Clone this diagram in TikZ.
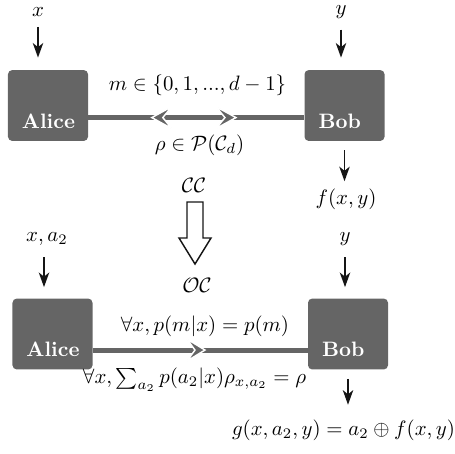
\documentclass[tikz,border=0pt]{standalone}
\usepackage{xcolor}
\usepackage{tikz}
\usepackage{amsmath}
\usepackage{amssymb}
\usetikzlibrary{arrows.meta, positioning, calc}
\definecolor{partygray}{HTML}{656565}
\definecolor{inkblack}{HTML}{151515}

\begin{document}
\begin{tikzpicture}[x=0.48pt, y=-0.48pt, >={Stealth[length=7pt, width=5pt, inset=2pt]},
        party/.style={fill=partygray, rounded corners=2pt, minimum width=38.4pt, minimum height=34pt, inner sep=0pt},
        partyname/.style={anchor=base west, text=white, font=\bfseries, inner sep=0pt},
        feed/.style={->, inkblack, line width=0.8pt},
        channel/.style={partygray, line width=2.4pt},
        chevron/.style={fill=partygray, draw=white, line width=0.7pt, line join=miter}]
        \useasboundingbox (0,0) rectangle (455,453);

        % classical communication
        \node[party] (alice1) at (48,105.5) {};
        \node[party] (bob1) at (344.5,105.5) {};
        \node[partyname] (alice1name) at ([shift={(14,-13)}]alice1.south west) {Alice};
        \node[partyname] (bob1name) at ([shift={(14,-13)}]bob1.south west) {Bob};
        \node (xin1) at (38,12) {$x$};
        \node (yin1) at (341,12.5) {$y$};
        \node (fout) at (346,199) {$f(x,y)$};
        \node (msg1) at (197.5,85) {$m \in \{0,1,...,d-1\}$};
        \node (rho1) at (199.5,145) {$\rho \in \mathcal{P}(\mathcal{C}_d)$};

        \draw[feed, shorten <=1.5pt, shorten >=5.8pt] (xin1.south) -- (xin1.south |- alice1.north);
        \draw[feed, shorten <=1.5pt, shorten >=5.8pt] (yin1.south) -- (yin1.south |- bob1.north);
        \draw[feed, shorten <=4.3pt] (bob1.south) -- (bob1.south |- fout.north);
        \coordinate (a1) at ([yshift=-5.8pt]alice1.east);
        \coordinate (b1) at ([yshift=-5.8pt]bob1.west);
        \draw[channel] (a1) -- (b1);
        \coordinate (tipl1) at ($(a1)!0.294!(b1)$);
        \coordinate (tipr1) at ($(a1)!0.684!(b1)$);
        \draw[chevron] (tipl1) -- ++(20,-11) -- ++(-9,11) -- ++(9,11) -- cycle;
        \draw[chevron] (tipr1) -- ++(-20,-11) -- ++(9,11) -- ++(-9,11) -- cycle;

        % reduction
        \node (cc) at (194,185) {$\mathcal{CC}$};
        \node (oc) at (197,285) {$\mathcal{OC}$};
        \draw[inkblack, line width=0.7pt] (187,202) -- (203,202) -- (203,238) -- (211,238) -- (195,264) -- (179,238) -- (187,238) -- cycle;

        % one-way channel
        \node[party] (alice2) at (52.5,334) {};
        \node[party] (bob2) at (348,334) {};
        \node[partyname] (alice2name) at ([shift={(14,-13)}]alice2.south west) {Alice};
        \node[partyname] (bob2name) at ([shift={(14,-13)}]bob2.south west) {Bob};
        \node (xin2) at (47,239) {$x, a_2$};
        \node (yin2) at (345,239) {$y$};
        \node (gout) at (343.5,430) {$g(x,a_2,y) = a_2 \oplus f(x,y)$};
        \node (msg2) at (205,326) {$\forall x, p(m|x) = p(m)$};
        \node (rho2) at (194.5,380) {$\forall x, \sum_{a_2} p(a_2|x)\rho_{x,a_2} = \rho$};

        \draw[feed, shorten <=2pt, shorten >=5.3pt] (xin2.south -| 44,0) -- (44,0 |- alice2.north);
        \draw[feed, shorten <=2pt, shorten >=5.3pt] (yin2.south) -- (yin2.south |- bob2.north);
        \draw[feed, shorten <=4.3pt, shorten >=3.6pt] (bob2.south) -- (bob2.south |- gout.north);
        \coordinate (a2) at ([yshift=-7.7pt]alice2.east);
        \coordinate (b2) at ([yshift=-7.7pt]bob2.west);
        \draw[channel] (a2) -- (b2);
        \coordinate (tipr2) at ($(a2)!0.522!(b2)$);
        \draw[chevron] (tipr2) -- ++(-18,-11) -- ++(8,11) -- ++(-8,11) -- cycle;
    \end{tikzpicture}
\end{document}
